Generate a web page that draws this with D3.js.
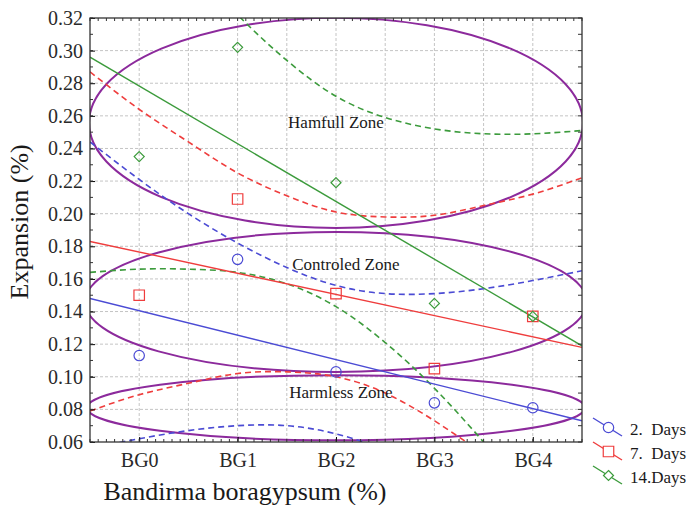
<!DOCTYPE html>
<html>
<head>
<meta charset="utf-8">
<script src="https://cdn.jsdelivr.net/npm/d3@7"></script>
<style>
  body { margin: 0; background: #fff; }
  text { font-family: "Liberation Serif", "DejaVu Serif", serif; }
</style>
</head>
<body>
<div id="chart"></div>
<script>
// values
var categories = ["BG0", "BG1", "BG2", "BG3", "BG4"];
var days2  = [0.113, 0.172, 0.103, 0.084, 0.081];
var days7  = [0.150, 0.209, 0.151, 0.105, 0.137];
var days14 = [0.235, 0.302, 0.219, 0.145, 0.137];

// regression lines, value at left and right edge of plot
var fitX = [-0.5, 4.5];
var fit2  = [0.148, 0.073];
var fit7  = [0.183, 0.118];
var fit14 = [0.296, 0.119];

// dashed bands, read every half category
var bandX = [-0.5, 0, 0.5, 1, 1.5, 2, 2.5, 3, 3.5, 4, 4.5];
var upper2  = [0.244, 0.221, 0.200, 0.182, 0.167, 0.156, 0.151, 0.151, 0.154, 0.159, 0.165];
var lower2  = [0.056, 0.062, 0.067, 0.070, 0.070, 0.065, 0.055, 0.040, 0.021, 0.001, -0.020];
var upper7  = [0.287, 0.264, 0.244, 0.225, 0.211, 0.201, 0.198, 0.199, 0.205, 0.212, 0.222];
var lower7  = [0.079, 0.089, 0.096, 0.102, 0.103, 0.100, 0.090, 0.073, 0.053, 0.034, 0.014];
var upper14 = [0.428, 0.391, 0.355, 0.322, 0.294, 0.272, 0.259, 0.252, 0.249, 0.249, 0.251];
var lower14 = [0.164, 0.166, 0.166, 0.164, 0.157, 0.143, 0.121, 0.093, 0.060, 0.025, -0.012];

var yTicks = [0.06, 0.08, 0.10, 0.12, 0.14, 0.16, 0.18, 0.20, 0.22, 0.24, 0.26, 0.28, 0.30, 0.32];
var seriesNames = ["2.  Days", "7.  Days", "14.Days"];

// zones: label, centre value, half height (value units), half width (categories)
var zoneNames  = ["Hamfull Zone", "Controled Zone", "Harmless Zone"];
var zoneCenter = [0.2557, 0.1459, 0.0810];
var zoneHalf   = [0.0644, 0.0429, 0.0200];
var zoneWidth  = [2.51, 2.55, 2.53];
var zoneLabelX = [2.0, 2.1, 2.05];
var zoneLabelY = [0.2526, 0.1655, 0.0870];

var svgWidth = 691, svgHeight = 505;
var margin = { top: 18, right: 109, bottom: 63, left: 90 };
var width = svgWidth - margin.left - margin.right;
var height = svgHeight - margin.top - margin.bottom;

var blue = "#4b4bd4", red = "#ef3d3d", green = "#3c9b3c", purple = "#8c2a9c";
var colors = [blue, red, green];

var svg = d3.select("#chart").append("svg")
  .attr("width", svgWidth)
  .attr("height", svgHeight);

var g = svg.append("g")
  .attr("transform", "translate(" + margin.left + "," + margin.top + ")");

var x = d3.scaleLinear().domain([-0.5, 4.5]).range([0, width]);
var y = d3.scaleLinear().domain([0.06, 0.32]).range([height, 0]);

g.append("clipPath").attr("id", "plotclip")
  .append("rect").attr("width", width).attr("height", height);

// grid
var grid = g.append("g").attr("stroke", "#c4c4c4").attr("stroke-dasharray", "3,2").attr("stroke-width", 1);
grid.selectAll("line.v").data(d3.range(0, 4.01, 0.5)).enter()
  .append("line")
  .attr("x1", d => x(d)).attr("x2", d => x(d))
  .attr("y1", 0).attr("y2", height);
grid.selectAll("line.h").data(yTicks.slice(1, -1)).enter()
  .append("line")
  .attr("y1", d => y(d)).attr("y2", d => y(d))
  .attr("x1", 0).attr("x2", width);

var plot = g.append("g").attr("clip-path", "url(#plotclip)");

// zone ellipses
plot.selectAll("ellipse").data(zoneNames).enter()
  .append("ellipse")
  .attr("cx", x(2))
  .attr("cy", (d, i) => y(zoneCenter[i]))
  .attr("rx", (d, i) => x(zoneWidth[i]) - x(0))
  .attr("ry", (d, i) => y(0) - y(zoneHalf[i]))
  .attr("fill", "none")
  .attr("stroke", purple)
  .attr("stroke-width", 2);

var line = d3.line()
  .x(d => x(d[0]))
  .y(d => y(d[1]));
var curve = d3.line()
  .x(d => x(d[0]))
  .y(d => y(d[1]))
  .curve(d3.curveNatural);

var bands = [[upper2, lower2], [upper7, lower7], [upper14, lower14]];
var fits = [fit2, fit7, fit14];
var points = [days2, days7, days14];

bands.forEach(function(b, s) {
  b.forEach(function(vals) {
    plot.append("path")
      .datum(bandX.map((v, i) => [v, vals[i]]))
      .attr("fill", "none")
      .attr("stroke", colors[s])
      .attr("stroke-width", 1.6)
      .attr("stroke-dasharray", "6,4")
      .attr("d", curve);
  });
});

fits.forEach(function(f, s) {
  plot.append("path")
    .datum(fitX.map((v, i) => [v, f[i]]))
    .attr("fill", "none")
    .attr("stroke", colors[s])
    .attr("stroke-width", 1.4)
    .attr("d", line);
});

var sym = [d3.symbolCircle, d3.symbolSquare, d3.symbolDiamond2];
var symSize = [85, 110, 64];
points.forEach(function(p, s) {
  plot.selectAll(".pt" + s).data(p).enter()
    .append("path")
    .attr("transform", (d, i) => "translate(" + x(i) + "," + y(d) + ")")
    .attr("d", d3.symbol().type(sym[s]).size(symSize[s]))
    .attr("fill", "none")
    .attr("stroke", colors[s])
    .attr("stroke-width", 1.2);
});

// zone labels
g.selectAll("text.zone").data(zoneNames).enter()
  .append("text")
  .attr("x", (d, i) => x(zoneLabelX[i]))
  .attr("y", (d, i) => y(zoneLabelY[i]))
  .attr("text-anchor", "middle")
  .attr("font-size", 17)
  .attr("fill", "#1a1a1a")
  .text(d => d);

// axes
var yAxis = d3.axisLeft(y).tickValues(yTicks).tickFormat(d3.format(".2f"))
  .tickSizeInner(-5).tickSizeOuter(0).tickPadding(7);
var xAxis = d3.axisBottom(x).tickValues([0, 1, 2, 3, 4]).tickFormat(i => categories[i])
  .tickSizeInner(-5).tickSizeOuter(0).tickPadding(11);

var ya = g.append("g").call(yAxis);
var xa = g.append("g").attr("transform", "translate(0," + height + ")").call(xAxis);
[ya, xa].forEach(function(a) {
  a.select(".domain").remove();
  a.selectAll("text").attr("font-size", 20).attr("fill", "#2a2a2a")
    .attr("font-family", "Liberation Serif");
});

// minor ticks all four sides
var minorY = d3.range(0.06, 0.3201, 0.01);
var minorX = d3.range(-0.5, 4.501, 1 / 12);
var ticks = g.append("g").attr("stroke", "#333").attr("stroke-width", 1);
ticks.selectAll("line.l").data(minorY).enter().append("line")
  .attr("x1", 0).attr("x2", 3).attr("y1", d => y(d)).attr("y2", d => y(d));
ticks.selectAll("line.r").data(minorY).enter().append("line")
  .attr("x1", width).attr("x2", width - 4).attr("y1", d => y(d)).attr("y2", d => y(d));
ticks.selectAll("line.t").data(minorX).enter().append("line")
  .attr("y1", 0).attr("y2", 3).attr("x1", d => x(d)).attr("x2", d => x(d));
ticks.selectAll("line.b").data(minorX).enter().append("line")
  .attr("y1", height).attr("y2", height - 3).attr("x1", d => x(d)).attr("x2", d => x(d));

g.append("rect")
  .attr("width", width).attr("height", height)
  .attr("fill", "none").attr("stroke", "#333").attr("stroke-width", 1.3);

// axis titles
svg.append("text")
  .attr("x", 245).attr("y", 500)
  .attr("text-anchor", "middle")
  .attr("font-size", 26)
  .attr("fill", "#1a1a1a")
  .text("Bandirma boragypsum (%)");

svg.append("text")
  .attr("transform", "translate(28," + (margin.top + y(0.195)) + ") rotate(-90)")
  .attr("text-anchor", "middle")
  .attr("font-size", 26)
  .attr("fill", "#1a1a1a")
  .text("Expansion (%)");

// legend
var legend = svg.append("g").attr("transform", "translate(593,418)");
seriesNames.forEach(function(name, s) {
  var row = legend.append("g").attr("transform", "translate(0," + (s * 24) + ")");
  row.append("line")
    .attr("x1", 0).attr("y1", 0).attr("x2", 29).attr("y2", 18)
    .attr("stroke", colors[s]).attr("stroke-width", 1.4);
  row.append("path")
    .attr("transform", "translate(15.5,9.5)")
    .attr("d", d3.symbol().type(sym[s]).size(symSize[s]))
    .attr("fill", "#fff")
    .attr("stroke", colors[s])
    .attr("stroke-width", 1.2);
  row.append("text")
    .attr("x", 37).attr("y", 17)
    .attr("font-size", 17)
    .attr("fill", "#1a1a1a")
    .style("white-space", "pre")
    .text(name);
});
</script>
</body>
</html>
